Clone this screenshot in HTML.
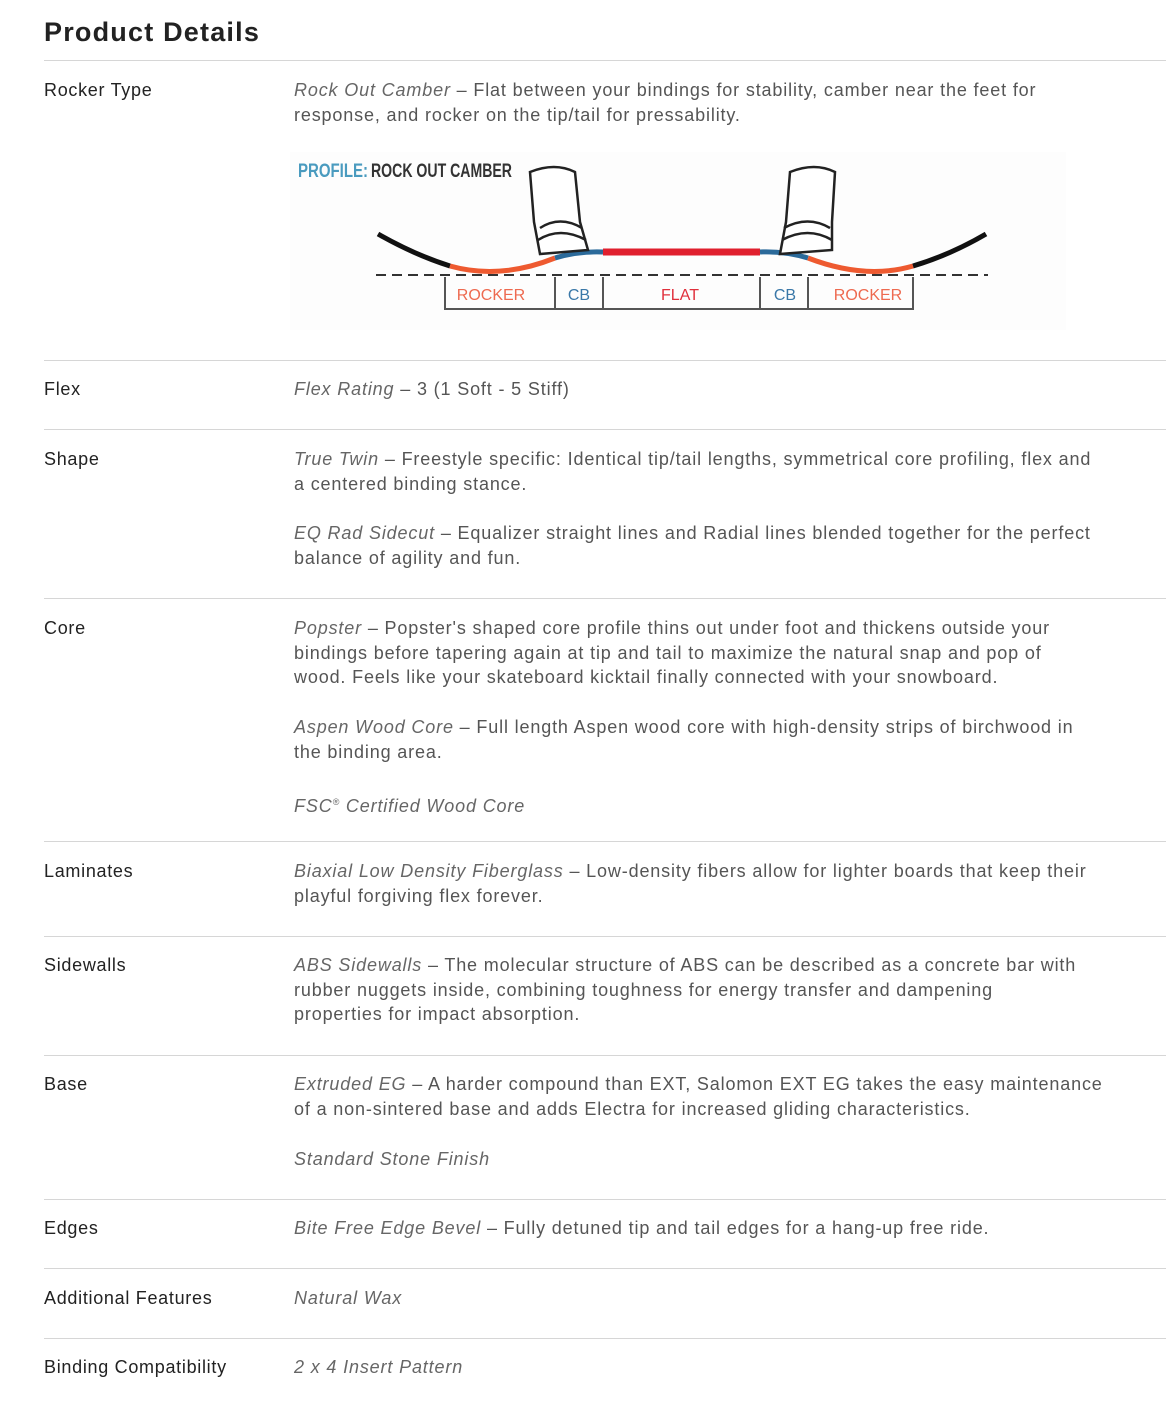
<!DOCTYPE html>
<html><head><meta charset="utf-8"><style>
body{margin:0;width:1166px;height:1414px;background:#fff;position:relative;overflow:hidden;font-family:"Liberation Sans",sans-serif}
h1{position:absolute;left:44px;top:14px;margin:0;font-size:27px;font-weight:bold;color:#222;line-height:36px;letter-spacing:1.2px}
.hr{position:absolute;left:44px;right:0;height:1px;background:#d6d6d6}
.l{position:absolute;left:44px;font-size:18px;color:#222;line-height:25px;white-space:nowrap;letter-spacing:0.7px}
.v{position:absolute;left:294px;font-size:18px;color:#555;line-height:24.7px;white-space:nowrap;letter-spacing:0.85px}
.v i{color:#666}
</style></head><body>
<h1>Product Details</h1>
<div class="hr" style="top:60px"></div>
<div class="l" style="top:78px">Rocker Type</div>
<div class="v" style="top:78px"><i>Rock Out Camber</i> – Flat between your bindings for stability, camber near the feet for<br>response, and rocker on the tip/tail for pressability.</div>
<svg style="position:absolute;left:0;top:0" width="1166" height="360">
<rect x="290" y="152" width="776" height="178" fill="#fdfdfd"/>
<text x="298" y="177" font-family="Liberation Sans Narrow,Liberation Sans,sans-serif" font-weight="bold" font-size="19" fill="#4a9bbf" textLength="70" lengthAdjust="spacingAndGlyphs">PROFILE:</text>
<text x="371" y="177" font-family="Liberation Sans Narrow,Liberation Sans,sans-serif" font-weight="bold" font-size="19" fill="#333" textLength="141" lengthAdjust="spacingAndGlyphs">ROCK OUT CAMBER</text>
<g fill="none" stroke-width="5" stroke-linecap="butt">
<path d="M378 234 Q415 255 450 266" stroke="#111"/>
<path d="M450 266 Q500 280 555 258" stroke="#ee5a30"/>
<path d="M555 258 Q578 251 603 252" stroke="#2b6a9a"/>
<path d="M603 252 L760 252" stroke="#e0202e" stroke-width="7"/>
<path d="M760 252 Q785 251 808 258" stroke="#2b6a9a"/>
<path d="M808 258 Q865 280 913 266" stroke="#ee5a30"/>
<path d="M913 266 Q950 255 986 234" stroke="#111"/>
</g>
<line x1="376" y1="275" x2="988" y2="275" stroke="#333" stroke-width="2" stroke-dasharray="10,6"/>
<g fill="none" stroke="#555" stroke-width="2">
<path d="M445 277 V309 H913 V277"/>
<path d="M555 277V309M603 277V309M760 277V309M808 277V309"/>
</g>
<g font-family="Liberation Sans Narrow,Liberation Sans,sans-serif" font-size="16" text-anchor="middle">
<text x="491" y="300" fill="#ee6a50">ROCKER</text><text x="579" y="300" fill="#3a78a8">CB</text>
<text x="680" y="300" fill="#e0303c">FLAT</text><text x="785" y="300" fill="#3a78a8">CB</text>
<text x="868" y="300" fill="#ee6a50">ROCKER</text>
</g>
<g fill="#fff" stroke="#222" stroke-width="2.5">
<path d="M530 172 Q555 162 575 172 L580 222 L588 250 L540 254 L534 222 Z"/>
<path d="M540 228 Q560 215 582 228 M538 240 Q560 226 586 240"/>
<path d="M790 172 Q815 162 835 172 L832 222 L832 250 L780 254 L786 222 Z"/>
<path d="M784 228 Q808 215 830 228 M782 240 Q808 226 832 240"/>
</g>
</svg>
<div class="hr" style="top:360px"></div>
<div class="l" style="top:377px">Flex</div>
<div class="v" style="top:377px"><i>Flex Rating</i> – 3 (1 Soft - 5 Stiff)</div>
<div class="hr" style="top:429px"></div>
<div class="l" style="top:447px">Shape</div>
<div class="v" style="top:447px"><i>True Twin</i> – Freestyle specific: Identical tip/tail lengths, symmetrical core profiling, flex and<br>a centered binding stance.</div>
<div class="v" style="top:521px"><i>EQ Rad Sidecut</i> – Equalizer straight lines and Radial lines blended together for the perfect<br>balance of agility and fun.</div>
<div class="hr" style="top:598px"></div>
<div class="l" style="top:616px">Core</div>
<div class="v" style="top:616px"><i>Popster</i> – Popster's shaped core profile thins out under foot and thickens outside your<br>bindings before tapering again at tip and tail to maximize the natural snap and pop of<br>wood. Feels like your skateboard kicktail finally connected with your snowboard.</div>
<div class="v" style="top:715px"><i>Aspen Wood Core</i> – Full length Aspen wood core with high-density strips of birchwood in<br>the binding area.</div>
<div class="v" style="top:790px"><i>FSC<sup style="font-size:9px">®</sup> Certified Wood Core</i></div>
<div class="hr" style="top:841px"></div>
<div class="l" style="top:859px">Laminates</div>
<div class="v" style="top:859px"><i>Biaxial Low Density Fiberglass</i> – Low-density fibers allow for lighter boards that keep their<br>playful forgiving flex forever.</div>
<div class="hr" style="top:936px"></div>
<div class="l" style="top:953px">Sidewalls</div>
<div class="v" style="top:953px"><i>ABS Sidewalls</i> – The molecular structure of ABS can be described as a concrete bar with<br>rubber nuggets inside, combining toughness for energy transfer and dampening<br>properties for impact absorption.</div>
<div class="hr" style="top:1055px"></div>
<div class="l" style="top:1072px">Base</div>
<div class="v" style="top:1072px"><i>Extruded EG</i> – A harder compound than EXT, Salomon EXT EG takes the easy maintenance<br>of a non-sintered base and adds Electra for increased gliding characteristics.</div>
<div class="v" style="top:1147px"><i>Standard Stone Finish</i></div>
<div class="hr" style="top:1199px"></div>
<div class="l" style="top:1216px">Edges</div>
<div class="v" style="top:1216px"><i>Bite Free Edge Bevel</i> – Fully detuned tip and tail edges for a hang-up free ride.</div>
<div class="hr" style="top:1268px"></div>
<div class="l" style="top:1286px">Additional Features</div>
<div class="v" style="top:1286px"><i>Natural Wax</i></div>
<div class="hr" style="top:1338px"></div>
<div class="l" style="top:1355px">Binding Compatibility</div>
<div class="v" style="top:1355px"><i>2 x 4 Insert Pattern</i></div>
</body></html>
